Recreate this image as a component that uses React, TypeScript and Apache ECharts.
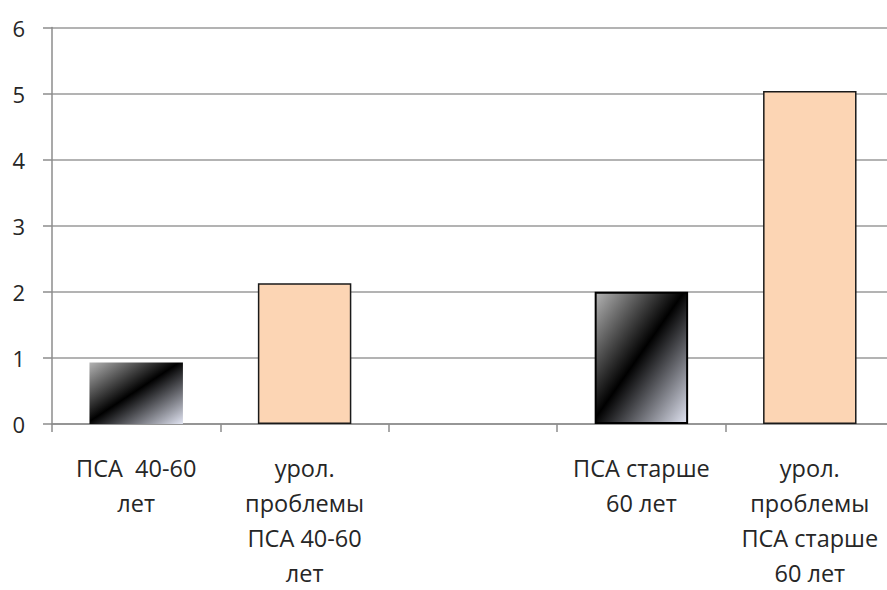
import React, { useEffect, useRef } from "react";
import * as echarts from "echarts";

const categories = [
  "ПСА  40-60\nлет",
  "урол.\nпроблемы\nПСА 40-60\nлет",
  "",
  "ПСА старше\n60 лет",
  "урол.\nпроблемы\nПСА старше\n60 лет",
];
const values: (number | null)[] = [0.93, 2.13, null, 2.0, 5.04];
const yTicks = { min: 0, max: 6, interval: 1 };

const gradient = () =>
  new echarts.graphic.LinearGradient(0, 0, 1, 1, [
    { offset: 0, color: "#b4b4b4" },
    { offset: 0.48, color: "#000000" },
    { offset: 1, color: "#e2e5f3" },
  ]);

export default function App() {
  const ref = useRef<HTMLDivElement>(null);
  useEffect(() => {
    const chart = echarts.init(ref.current!, null, { renderer: "svg" });
    const styles = [
      { color: gradient(), borderWidth: 0 },
      { color: "#fcd5b4", borderColor: "#1a1a1a", borderWidth: 1.5 },
      {},
      { color: gradient(), borderColor: "#000", borderWidth: 2 },
      { color: "#fcd5b4", borderColor: "#1a1a1a", borderWidth: 1.5 },
    ];
    chart.setOption({
      animation: false,
      backgroundColor: "#fff",
      grid: { left: 52, right: 1, top: 27.5, bottom: 164, containLabel: false },
      xAxis: {
        type: "category",
        data: categories,
        axisLine: { lineStyle: { color: "#8c8c8c", width: 1.5 } },
        axisTick: { show: true, length: 8, lineStyle: { color: "#8c8c8c", width: 1.5 } },
        axisLabel: {
          interval: 0,
          color: "#262626",
          fontFamily: "Open Sans",
          fontSize: 23.5,
          lineHeight: 35,
          margin: 26,
        },
      },
      yAxis: {
        type: "value",
        min: yTicks.min,
        max: yTicks.max,
        interval: yTicks.interval,
        axisLine: { show: true, lineStyle: { color: "#8c8c8c", width: 1.5 } },
        axisTick: { show: true, length: 9, lineStyle: { color: "#8c8c8c", width: 1.5 } },
        splitLine: { lineStyle: { color: "#9a9a9a", width: 1.5 } },
        axisLabel: {
          color: "#262626",
          fontFamily: "Open Sans",
          fontSize: 22,
          margin: 27,
        },
      },
      series: [
        {
          type: "bar",
          barWidth: "55.5%",
          data: values.map((v, i) => ({ value: v, itemStyle: styles[i] })),
        },
      ],
    });
    return () => chart.dispose();
  }, []);
  return (
    <div style={{ width: 887, height: 590, position: "absolute", left: 0, top: 0, overflow: "hidden" }}>
      <div ref={ref} style={{ width: 895, height: 590, position: "absolute", left: 0, top: 0 }} />
    </div>
  );
}
